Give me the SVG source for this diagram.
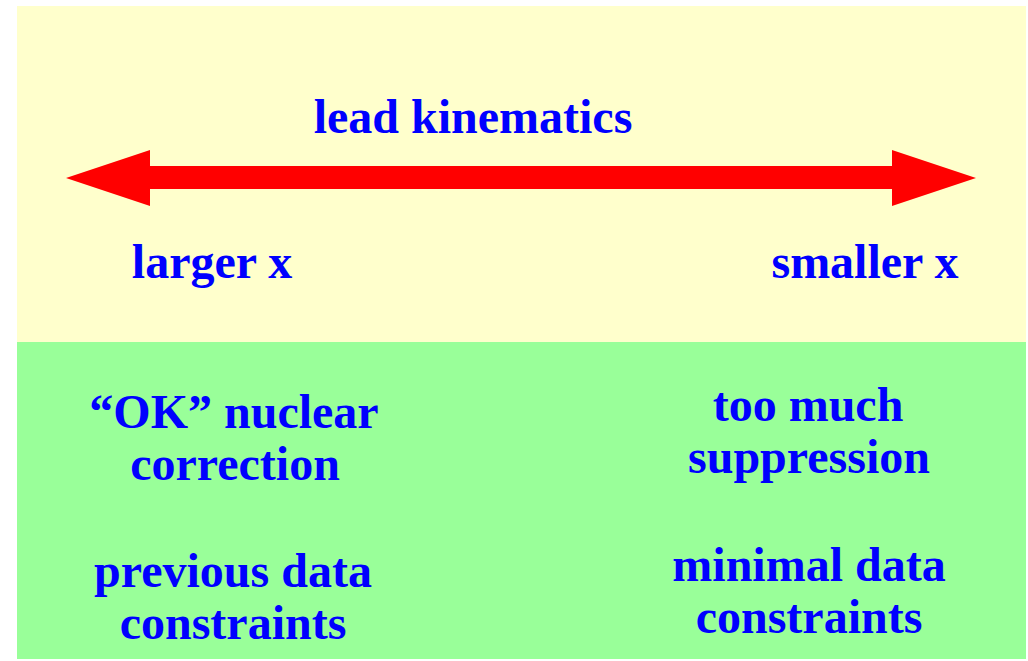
<svg xmlns="http://www.w3.org/2000/svg" width="1028" height="661" viewBox="0 0 1028 661">
<style>
.t{font-family:"Liberation Serif","Times New Roman",serif;font-weight:bold;font-size:48px;fill:#0000FF;text-anchor:middle}
</style>
<rect width="1028" height="661" fill="#FFFFFF"/>
<g id="top-panel"><rect x="17" y="6" width="1009" height="336" fill="#FFFFCC"/></g>
<g id="bottom-panel"><rect x="17" y="342" width="1009" height="317" fill="#99FF99"/></g>
<g id="connectors">
<polygon points="66,178 150,150 150,166 892,166 892,150 976,178 892,206 892,189 150,189 150,206" fill="#FF0000"/>
</g>
<g id="title"><text class="t" x="473" y="133">lead kinematics</text></g>
<g id="larger"><text class="t" x="212" y="278">larger x</text></g>
<g id="smaller"><text class="t" x="865" y="278">smaller x</text></g>
<g id="ok"><text class="t" x="234" y="428">“OK” nuclear</text><text class="t" x="235" y="480">correction</text></g>
<g id="toomuch"><text class="t" x="808" y="421">too much</text><text class="t" x="809" y="473">suppression</text></g>
<g id="previous"><text class="t" x="233" y="587">previous data</text><text class="t" x="233" y="639">constraints</text></g>
<g id="minimal"><text class="t" x="809" y="581">minimal data</text><text class="t" x="809" y="633">constraints</text></g>
</svg>
